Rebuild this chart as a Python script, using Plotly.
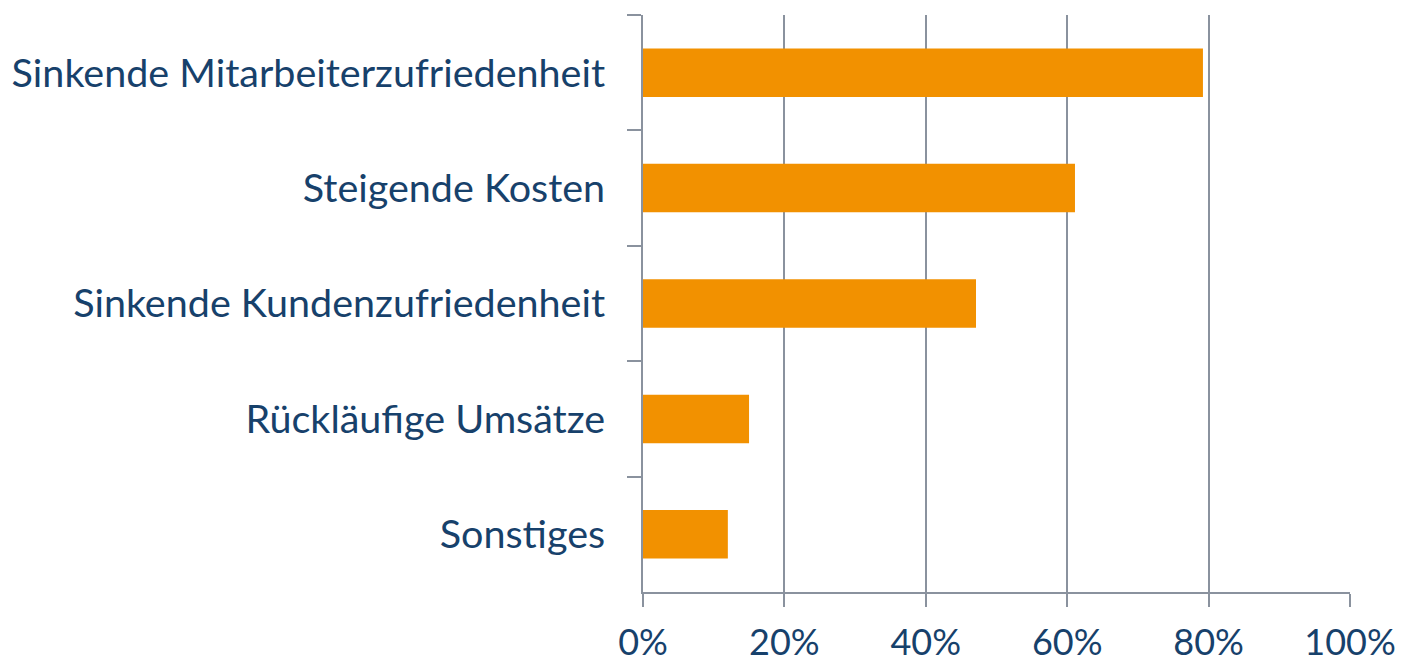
import plotly.graph_objects as go

categories = ["Sinkende Mitarbeiterzufriedenheit", "Steigende Kosten",
              "Sinkende Kundenzufriedenheit", "Rückläufige Umsätze", "Sonstiges"]
values = [79.2, 61.1, 47.1, 15.0, 12.0]
x_ticks = [0, 20, 40, 60, 80, 100]
x_tick_labels = ["0%", "20%", "40%", "60%", "80%", "100%"]

axis_color = "#8a929e"
text_color = "#17416b"
font_family = "Lato, 'Open Sans', sans-serif"

fig = go.Figure(go.Bar(
    x=values, y=categories, orientation="h",
    marker=dict(color="#F29100", line=dict(width=0)),
))

fig.update_layout(
    width=1401, height=663,
    margin=dict(l=643, r=51, t=15, b=71),
    paper_bgcolor="white", plot_bgcolor="white",
    bargap=0.58,
    showlegend=False,
    font=dict(family=font_family, color=text_color),
)
fig.update_xaxes(
    range=[0, 100], tickvals=x_ticks, ticktext=x_tick_labels,
    showgrid=True, gridcolor=axis_color, gridwidth=2,
    showline=True, linecolor=axis_color, linewidth=2,
    ticks="outside", ticklen=13, tickwidth=2, tickcolor=axis_color,
    tickfont=dict(size=36, color=text_color, family=font_family),
    ticklabelstandoff=5,
    zeroline=False, automargin=False,
)
fig.update_yaxes(
    categoryorder="array", categoryarray=categories, autorange="reversed",
    showgrid=False,
    showline=True, linecolor=axis_color, linewidth=2,
    ticks="outside", ticklen=14, tickwidth=2, tickcolor=axis_color,
    tickson="boundaries",
    tickfont=dict(size=39.5, color=text_color, family=font_family),
    ticklabelstandoff=28, automargin=False,
)

fig.write_html("out.html", config={"displayModeBar": False},
               post_script="document.body.style.margin='0';")
